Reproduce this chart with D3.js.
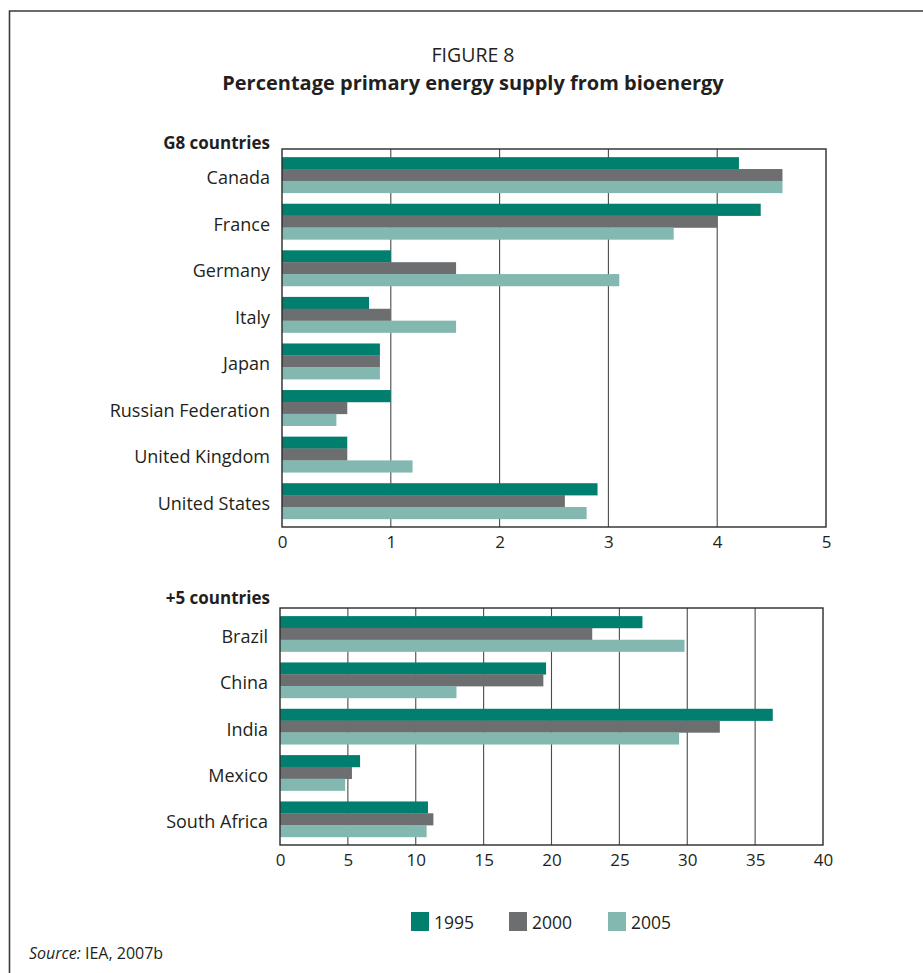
<!DOCTYPE html>
<html>
<head>
<meta charset="utf-8">
<script src="https://cdn.jsdelivr.net/npm/d3@7"></script>
<style>
  html, body { margin: 0; padding: 0; background: #fff; }
  svg { display: block; font-family: "Open Sans", "Noto Sans", sans-serif; }
</style>
</head>
<body>
<svg id="chart" width="923" height="973"></svg>
<script>
// ---- Data ----
const years = ["1995", "2000", "2005"];
const colors = ["#007f6f", "#6d6e70", "#82b8b0"];

const g8Countries = ["Canada", "France", "Germany", "Italy", "Japan", "Russian Federation", "United Kingdom", "United States"];
const g8_1995 = [4.2, 4.4, 1.0, 0.8, 0.9, 1.0, 0.6, 2.9];
const g8_2000 = [4.6, 4.0, 1.6, 1.0, 0.9, 0.6, 0.6, 2.6];
const g8_2005 = [4.6, 3.6, 3.1, 1.6, 0.9, 0.5, 1.2, 2.8];
const g8Ticks = [0, 1, 2, 3, 4, 5];

const p5Countries = ["Brazil", "China", "India", "Mexico", "South Africa"];
const p5_1995 = [26.7, 19.6, 36.3, 5.9, 10.9];
const p5_2000 = [23.0, 19.4, 32.4, 5.3, 11.3];
const p5_2005 = [29.8, 13.0, 29.4, 4.8, 10.8];
const p5Ticks = [0, 5, 10, 15, 20, 25, 30, 35, 40];

const svg = d3.select("#chart");
const textColor = "#231f20";

// Frame
svg.append("path")
  .attr("d", "M9.5,973 L9.5,11 L923,11")
  .attr("fill", "none").attr("stroke", "#3a3a3a").attr("stroke-width", 1.6);

// Titles
svg.append("text").attr("x", 473).attr("y", 62).attr("text-anchor", "middle")
  .attr("font-size", 19.5).attr("fill", textColor).text("FIGURE 8");
svg.append("text").attr("x", 473).attr("y", 90).attr("text-anchor", "middle")
  .attr("font-size", 20).attr("font-weight", "bold").attr("fill", textColor)
  .text("Percentage primary energy supply from bioenergy");

function panel(cfg) {
  const { cats, series, ticks, x0, x1, y0, y1, heading, headingY } = cfg;
  const g = svg.append("g");
  const x = d3.scaleLinear().domain([ticks[0], ticks[ticks.length - 1]]).range([x0, x1]);
  const y = d3.scaleBand().domain(cats).range([y0, y1]).paddingInner(0.235).paddingOuter(0.175);
  const ys = d3.scaleBand().domain(years).range([0, y.bandwidth()]);

  // gridlines
  g.append("g").selectAll("line").data(ticks.slice(1, -1)).join("line")
    .attr("x1", d => x(d)).attr("x2", d => x(d))
    .attr("y1", y0).attr("y2", y1)
    .attr("stroke", "#4a4a4a").attr("stroke-width", 1.1);

  // bars
  const groups = g.append("g").selectAll("g").data(cats).join("g")
    .attr("transform", d => `translate(0,${y(d)})`);
  groups.selectAll("rect").data((d, i) => years.map((yr, k) => ({ yr, k, v: series[k][i] })))
    .join("rect")
    .attr("x", x(0))
    .attr("y", d => ys(d.yr))
    .attr("width", d => x(d.v) - x(0))
    .attr("height", ys.bandwidth() + 0.3)
    .attr("fill", d => colors[d.k]);

  // box
  g.append("rect").attr("x", x0).attr("y", y0).attr("width", x1 - x0).attr("height", y1 - y0)
    .attr("fill", "none").attr("stroke", "#2a2a2a").attr("stroke-width", 1.4);

  // x axis
  const xAxis = d3.axisBottom(x).tickValues(ticks).tickSize(0).tickPadding(9).tickFormat(d3.format("d"));
  const ax = g.append("g").attr("transform", `translate(0,${y1})`).call(xAxis);
  ax.select(".domain").remove();
  ax.selectAll("text").attr("font-size", 17).attr("fill", textColor)
    .attr("font-family", "\"Open Sans\", sans-serif");

  // y axis labels
  const yAxis = d3.axisLeft(y).tickSize(0).tickPadding(12);
  const ay = g.append("g").attr("transform", `translate(${x0},0)`).call(yAxis);
  ay.select(".domain").remove();
  ay.selectAll("text").attr("font-size", 18).attr("fill", textColor).attr("dy", "0.5em")
    .attr("font-family", "\"Open Sans\", sans-serif");

  // heading
  g.append("text").attr("x", 270).attr("y", headingY).attr("text-anchor", "end")
    .attr("font-size", 17).attr("font-weight", "bold").attr("fill", textColor).text(heading);
}

panel({ cats: g8Countries, series: [g8_1995, g8_2000, g8_2005], ticks: g8Ticks,
  x0: 282, x1: 826, y0: 149, y1: 527, heading: "G8 countries", headingY: 149 });
panel({ cats: p5Countries, series: [p5_1995, p5_2000, p5_2005], ticks: p5Ticks,
  x0: 280, x1: 823, y0: 608, y1: 845, heading: "+5 countries", headingY: 604 });

// Legend
const legendX = [411, 509, 608];
const lg = svg.append("g");
years.forEach((yr, i) => {
  lg.append("rect").attr("x", legendX[i]).attr("y", 912).attr("width", 18).attr("height", 19).attr("fill", colors[i]);
  lg.append("text").attr("x", legendX[i] + 23).attr("y", 929).attr("font-size", 17.5)
    .attr("fill", textColor).text(yr);
});

// Source
const src = svg.append("text").attr("x", 29).attr("y", 959).attr("font-size", 16).attr("fill", textColor);
src.append("tspan").attr("font-style", "italic").text("Source:");
src.append("tspan").text(" IEA, 2007b");
</script>
</body>
</html>
